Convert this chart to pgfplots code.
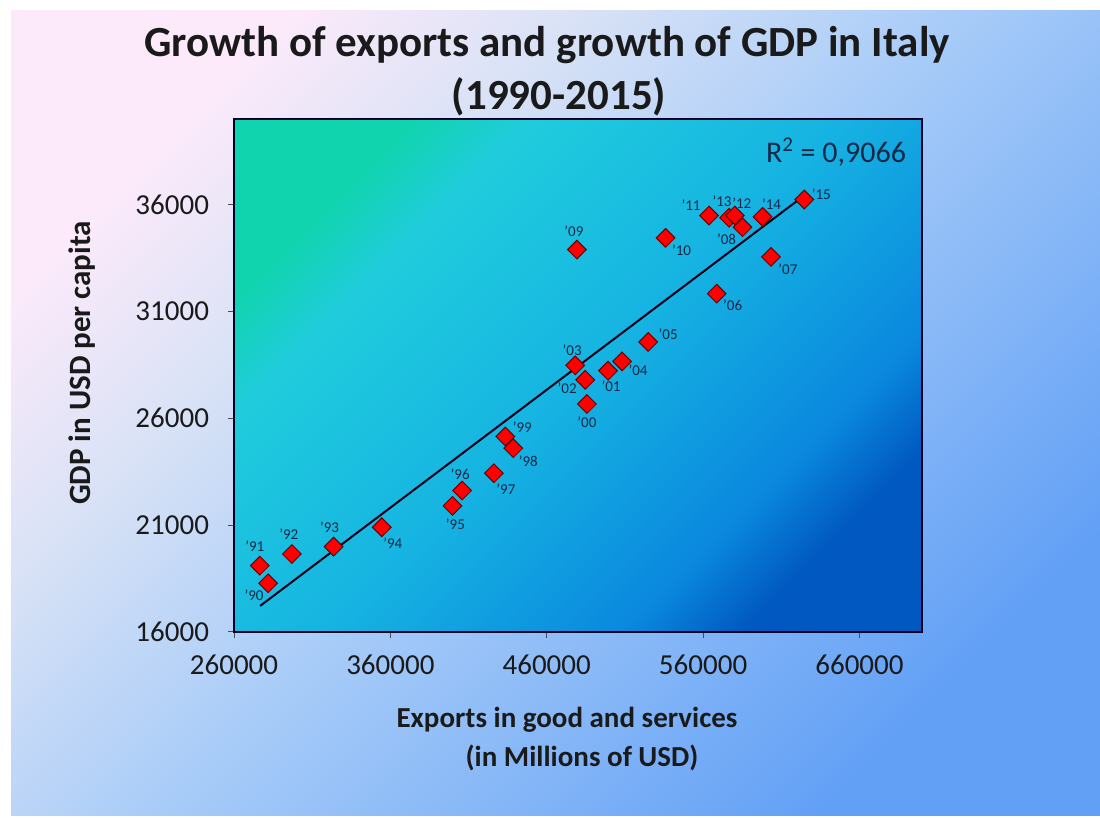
\documentclass[border=0pt]{standalone}
\usepackage{fontspec}
\setmainfont{Carlito}
\usepackage{pgfplots}
\usepackage{pgfplotstable}
\pgfplotsset{compat=1.18}
\definecolor{bgA}{HTML}{FCEAFA}
\definecolor{bgD}{HTML}{D8E2F6}
\definecolor{bgB}{HTML}{A8CCF8}
\definecolor{bgC}{HTML}{62A0F6}
\definecolor{plA}{HTML}{10D4AE}
\definecolor{plE}{HTML}{20CCDC}
\definecolor{plB}{HTML}{16B4E2}
\definecolor{plD}{HTML}{0A88DE}
\definecolor{plC}{HTML}{0058C0}
\definecolor{lblcol}{HTML}{142848}
\definecolor{txt}{HTML}{1A1A1A}
\pgfdeclareverticalshading{plotshade}{100bp}{color(0bp)=(plC); color(25bp)=(plC); color(32bp)=(plD); color(50bp)=(plB); color(68bp)=(plE); color(75bp)=(plA); color(100bp)=(plA)}
\pgfdeclareverticalshading{bgshade}{100bp}{color(0bp)=(bgC); color(25bp)=(bgC); color(50bp)=(bgB); color(64bp)=(bgD); color(75bp)=(bgA); color(100bp)=(bgA)}
\pgfplotstableread{
x y
281800 18280
276500 19105
297000 19650
323700 19995
354500 20900
399700 21900
405900 22620
426200 23430
438600 24600
433500 25150
485700 26665
499200 28225
484600 27800
478200 28475
508200 28660
524900 29570
568700 31830
603400 33550
585200 34940
479300 33890
536000 34440
563800 35485
576600 35380
580300 35485
598000 35425
624700 36235
}\pts
\newcommand\lb[5]{\node[font=\fontsize{7.5}{8}\selectfont, text=lblcol, inner sep=0pt, xshift=#3pt, yshift=#4pt] at (axis cs:#1,#2) {#5};}
\begin{document}
\begin{tikzpicture}[x=0.5pt,y=-0.5pt]
\path[use as bounding box] (0,0) rectangle (1100,818);
\fill[white] (0,0) rectangle (1100,818);
\shade[shading=bgshade, shading angle=45] (11,11) rectangle (1100,816);
\node[font=\fontsize{21.5}{26}\selectfont\bfseries, text=txt] at (547,45) {Growth of exports and growth of GDP in Italy};
\node[font=\fontsize{21.5}{26}\selectfont\bfseries, text=txt] at (559,97) {(1990-2015)};
\node[rotate=90, font=\fontsize{15.5}{18}\selectfont\bfseries, text=txt] at (82,363) {GDP in USD per capita};
\node[font=\fontsize{14.5}{18}\selectfont\bfseries, text=txt] at (567,720) {Exports in good and services};
\node[font=\fontsize{14.5}{18}\selectfont\bfseries, text=txt] at (582,758) {(in Millions of USD)};
\coordinate (axsw) at (234,632);
\begin{axis}[
  at={(axsw)}, anchor=south west,
  scale only axis, width=344pt, height=256.5pt,
  xmin=260000, xmax=700000, ymin=16000, ymax=40000,
  xtick={260000,360000,460000,560000,660000},
  ytick={16000,21000,26000,31000,36000},
  scaled ticks=false,
  /pgf/number format/fixed,
  /pgf/number format/precision=0,
  /pgf/number format/1000 sep={},
  /pgf/number format/assume math mode=true,
  tick label style={font=\fontsize{14.5}{16}\selectfont, text=txt},
  yticklabel style={xshift=-6pt},
  xticklabel style={yshift=-5pt},
  tick align=outside, major tick length=3pt,
  xtick pos=bottom, ytick pos=left,
  tick style={draw=black!70, line width=0.5pt},
  axis line style={draw=black!85!blue, line width=1pt},
  axis background/.style={shade, shading=plotshade, shading angle=45},
  clip=false,
]
\addplot[no marks, draw=black!90!blue, line width=1pt] coordinates {(276700,17220) (624700,36420)};
\addplot[only marks, mark=square*, mark size=3.3pt,
  mark options={rotate=45, fill=red, draw=black!60!red, line width=0.5pt},
] table[x=x, y=y] {\pts};
\lb{281800}{18280}{-7}{-6}{'90}
\lb{276500}{19105}{-2.5}{9.5}{'91}
\lb{297000}{19650}{-1.5}{10}{'92}
\lb{323700}{19995}{-2}{9.5}{'93}
\lb{354500}{20900}{5.5}{-8}{'94}
\lb{399700}{21900}{1.5}{-9}{'95}
\lb{405900}{22620}{-1}{8}{'96}
\lb{426200}{23430}{6}{-8}{'97}
\lb{438600}{24600}{7.5}{-6.5}{'98}
\lb{433500}{25150}{8.5}{4.5}{'99}
\lb{485700}{26665}{0}{-9}{'00}
\lb{499200}{28225}{1.5}{-8}{'01}
\lb{484600}{27800}{-9}{-4}{'02}
\lb{478200}{28475}{-1.5}{7.5}{'03}
\lb{508200}{28660}{8}{-4.5}{'04}
\lb{524900}{29570}{10}{4}{'05}
\lb{568700}{31830}{8}{-6}{'06}
\lb{603400}{33550}{8.5}{-6}{'07}
\lb{585200}{34940}{-8}{-6}{'08}
\lb{479300}{33890}{-1.5}{9}{'09}
\lb{536000}{34440}{8}{-6}{'10}
\lb{563800}{35485}{-9}{5}{'11}
\lb{580300}{35485}{3.5}{6}{'12}
\lb{576600}{35380}{-3.5}{8}{'13}
\lb{598000}{35425}{4.5}{6.5}{'14}
\lb{624700}{36235}{8.5}{2.5}{'15}
\end{axis}
\node[font=\fontsize{15}{18}\selectfont, text=lblcol] at (836,152) {R\textsuperscript{2} = 0,9066};
\end{tikzpicture}
\end{document}
